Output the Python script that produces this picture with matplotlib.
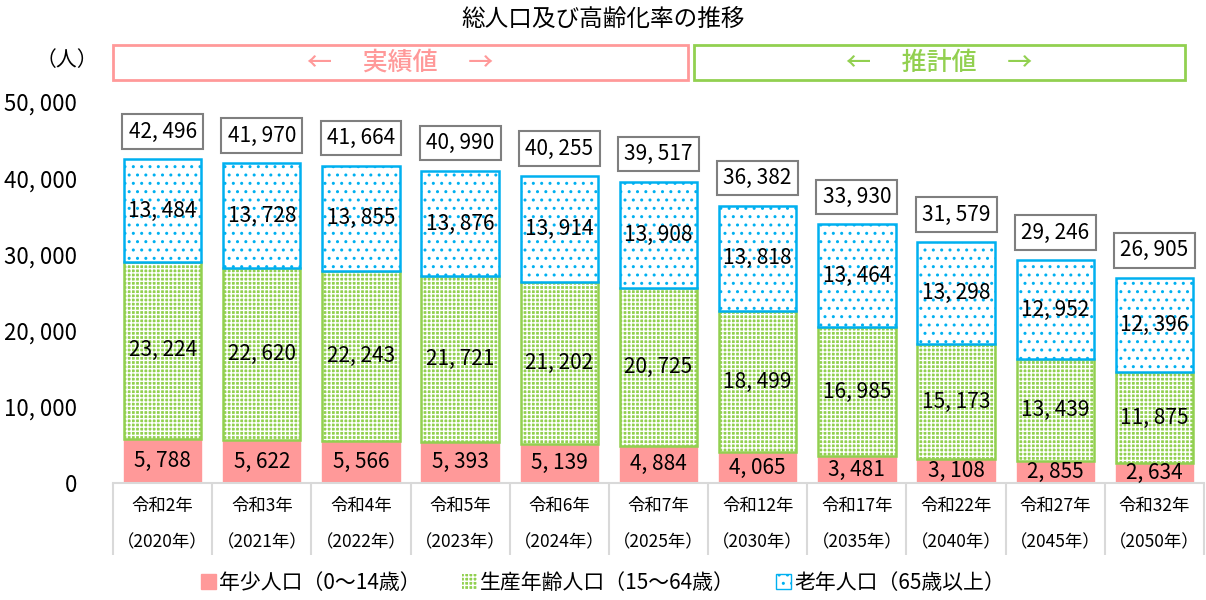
import matplotlib
matplotlib.use("Agg")
import matplotlib.pyplot as plt
from matplotlib.patches import Rectangle, Patch

plt.rcParams['font.family'] = ['Noto Sans CJK JP', 'DejaVu Sans']

# data
years = ["令和2年\n（2020年）", "令和3年\n（2021年）", "令和4年\n（2022年）", "令和5年\n（2023年）",
         "令和6年\n（2024年）", "令和7年\n（2025年）", "令和12年\n（2030年）", "令和17年\n（2035年）",
         "令和22年\n（2040年）", "令和27年\n（2045年）", "令和32年\n（2050年）"]
young = [5788, 5622, 5566, 5393, 5139, 4884, 4065, 3481, 3108, 2855, 2634]
working = [23224, 22620, 22243, 21721, 21202, 20725, 18499, 16985, 15173, 13439, 11875]
elderly = [13484, 13728, 13855, 13876, 13914, 13908, 13818, 13464, 13298, 12952, 12396]
total = [42496, 41970, 41664, 40990, 40255, 39517, 36382, 33930, 31579, 29246, 26905]
series_names = ["年少人口（0～14歳）", "生産年齢人口（15～64歳）", "老年人口（65歳以上）"]

pink = "#FF9999"
green = "#92D050"
blue = "#00B0F0"
numsize = 15


def fmt(v):
    return "{:,}".format(v).replace(",", ", ")


fig = plt.figure(figsize=(12.06, 6), dpi=100)
ax = fig.add_axes([113 / 1206, 1 - 483 / 600, 1091 / 1206, 381 / 600])

x = list(range(len(years)))
w = 0.78
bottom2 = young
bottom3 = [a + b for a, b in zip(young, working)]

ax.bar(x, young, w, color=pink, edgecolor=pink, linewidth=1)
ax.bar(x, working, w, bottom=bottom2, color=green, edgecolor="white", linewidth=0, hatch="++++")
ax.bar(x, working, w, bottom=bottom2, fill=False, edgecolor=green, linewidth=1.8)
ax.bar(x, elderly, w, bottom=bottom3, color="white", edgecolor=blue, linewidth=1.8, hatch="..")

for i in x:
    ax.text(i, young[i] / 2, fmt(young[i]), ha="center", va="center", fontsize=numsize)
    ax.text(i, bottom2[i] + working[i] / 2, fmt(working[i]), ha="center", va="center",
            fontsize=numsize)
    ax.text(i, bottom3[i] + elderly[i] / 2, fmt(elderly[i]), ha="center", va="center",
            fontsize=numsize)
    ax.annotate(fmt(total[i]), (i, total[i]), xytext=(0, 12), textcoords="offset points",
                ha="center", va="bottom", fontsize=numsize,
                bbox=dict(boxstyle="square,pad=0.3", fc="white", ec="#7f7f7f", lw=1.5))

ax.set_xlim(-0.5, len(years) - 0.5)
ax.set_ylim(0, 50000)
ax.set_yticks(range(0, 50001, 10000))
ax.set_yticklabels([fmt(v) for v in range(0, 50001, 10000)], fontsize=16)
ax.tick_params(axis="y", length=0, pad=26)

ax.set_xticks(x)
ax.set_xticklabels(years, fontsize=12.5, linespacing=2.3)
ax.set_xticks([i - 0.5 for i in range(len(years) + 1)], minor=True)
ax.tick_params(axis="x", which="major", length=0, pad=10)
ax.tick_params(axis="x", which="minor", length=52, width=1.5, color="#d9d9d9")

for s in ["top", "right", "left"]:
    ax.spines[s].set_visible(False)
ax.spines["bottom"].set_color("#d9d9d9")
ax.spines["bottom"].set_linewidth(1.5)

fig.text(0.5, 1 - 19 / 600, "総人口及び高齢化率の推移", ha="center", va="center", fontsize=17)
fig.text(67 / 1206, 1 - 60 / 600, "（人）", ha="center", va="center", fontsize=15)

# header boxes
for x0, x1, col, label in [(113, 688, pink, "←　 実績値 　→"), (694, 1185, green, "←　 推計値 　→")]:
    fig.patches.append(Rectangle((x0 / 1206, 1 - 80 / 600), (x1 - x0) / 1206, 35 / 600,
                                 transform=fig.transFigure, fill=False, edgecolor=col, lw=2))
    fig.text((x0 + x1) / 2 / 1206, 1 - 63 / 600, label, ha="center", va="center",
             fontsize=18, color=col, fontweight="medium")

handles = [Patch(facecolor=pink, edgecolor=pink),
           Patch(facecolor=green, edgecolor="white", hatch="++++", linewidth=0),
           Patch(facecolor="white", edgecolor=blue, hatch="..")]
fig.legend(handles, series_names, loc="center", bbox_to_anchor=(0.5, 1 - 583 / 600), ncol=3,
           frameon=False, fontsize=15, handlelength=0.7, handleheight=0.7, handletextpad=0.15,
           columnspacing=2.0)

fig.savefig("out.png", dpi=100)
